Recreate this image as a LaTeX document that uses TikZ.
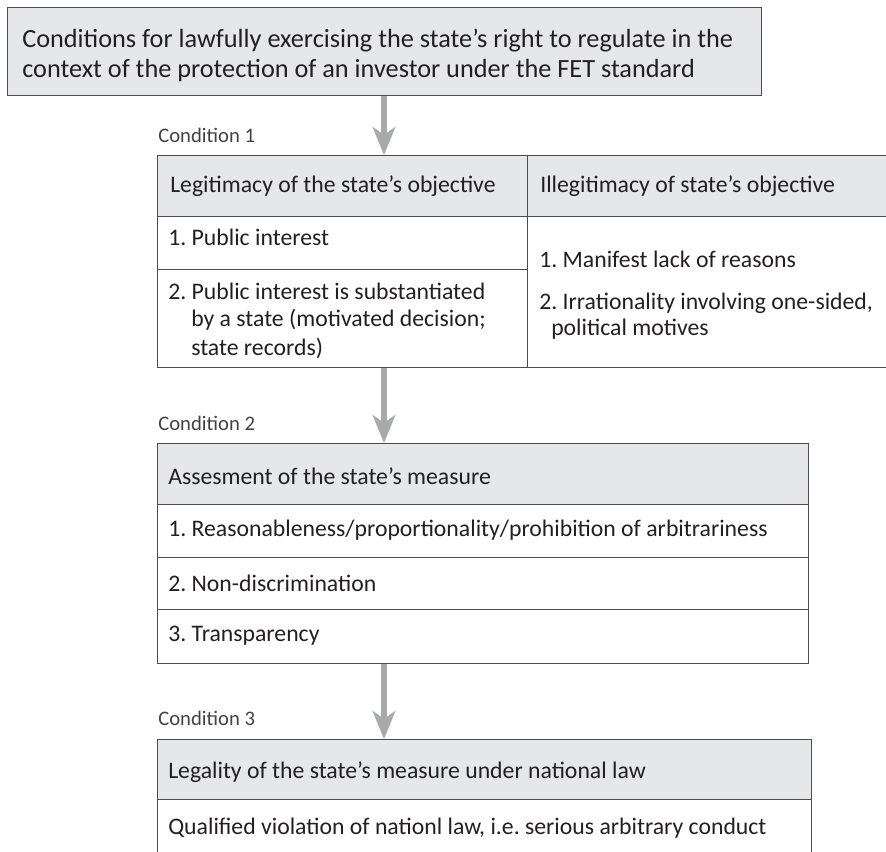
\documentclass[tikz,border=0pt]{standalone}
\usepackage{fontspec}
\setmainfont{Carlito}
\usetikzlibrary{arrows.meta}
\definecolor{hdrfill}{HTML}{E6E7E8}
\definecolor{edge}{HTML}{4D4D4D}
\definecolor{arrgray}{HTML}{A7A9AC}
\definecolor{txt}{HTML}{231F20}
\frenchspacing
\begin{document}
\begin{tikzpicture}[x=0.75pt,y=-0.75pt,
  hdr/.style={draw=edge,line width=1pt,fill=hdrfill},
  cell/.style={draw=edge,line width=1pt},
  body/.style={anchor=west,inner sep=0pt,text=txt,font=\fontsize{17.8}{21}\selectfont},
  big/.style={anchor=west,inner sep=0pt,text=txt,font=\fontsize{19.7}{24}\selectfont},
  cond/.style={anchor=west,inner sep=0pt,text=txt!85,font=\fontsize{15.5}{18}\selectfont},
  flow/.style={draw=arrgray,line width=4pt,-{Stealth[length=21pt,width=17pt,inset=6pt]}}]
\useasboundingbox (0,0) rectangle (886,851);
% top box
\node[hdr,minimum width=754*0.75pt,minimum height=88*0.75pt,anchor=north west,inner sep=0pt] (top) at (7,7) {};
\node[big] (toptxt1) at (22,40) {Conditions for lawfully exercising the state’s right to regulate in the};
\node[big] (toptxt2) at (22,70) {context of the protection of an investor under the FET standard};
% table 1
\node[hdr,minimum width=370*0.75pt,minimum height=61*0.75pt,anchor=north west,inner sep=0pt] (t1a) at (157,155) {};
\node[hdr,minimum width=362*0.75pt,minimum height=61*0.75pt,anchor=north west,inner sep=0pt] (t1b) at (527,155) {};
\node[cell,minimum width=370*0.75pt,minimum height=53*0.75pt,anchor=north west,inner sep=0pt] (t1c) at (157,216) {};
\node[cell,minimum width=370*0.75pt,minimum height=98*0.75pt,anchor=north west,inner sep=0pt] (t1d) at (157,269) {};
\node[cell,minimum width=362*0.75pt,minimum height=151*0.75pt,anchor=north west,inner sep=0pt] (t1e) at (527,216) {};
\node[body] (h1a) at (170,186) {Legitimacy of the state’s objective};
\node[body] (h1b) at (540,186) {Illegitimacy of state’s objective};
\node[body] (p1) at (168,237) {1. Public interest};
\node[body] (p2a) at (168,291) {2. Public interest is substantiated};
\node[body] (p2b) at (191,320) {by a state (motivated decision;};
\node[body] (p2c) at (191,348) {state records)};
\node[body] (q1) at (539,259) {1. Manifest lack of reasons};
\node[body] (q2a) at (539,303) {2. Irrationality involving one-sided,};
\node[body] (q2b) at (551,329) {political motives};
% table 2
\node[hdr,minimum width=651*0.75pt,minimum height=61*0.75pt,anchor=north west,inner sep=0pt] (t2h) at (157,443) {};
\node[cell,minimum width=651*0.75pt,minimum height=53*0.75pt,anchor=north west,inner sep=0pt] (t2a) at (157,504) {};
\node[cell,minimum width=651*0.75pt,minimum height=52*0.75pt,anchor=north west,inner sep=0pt] (t2b) at (157,557) {};
\node[cell,minimum width=651*0.75pt,minimum height=54*0.75pt,anchor=north west,inner sep=0pt] (t2c) at (157,609) {};
\node[body] (r0) at (168,476) {Assesment of the state’s measure};
\node[body] (r1) at (168,530) {1. Reasonableness/proportionality/prohibition of arbitrariness};
\node[body] (r2) at (168,583) {2. Non-discrimination};
\node[body] (r3) at (168,636) {3. Transparency};
% table 3
\node[hdr,minimum width=654*0.75pt,minimum height=60*0.75pt,anchor=north west,inner sep=0pt] (t3h) at (157,739) {};
\node[cell,minimum width=654*0.75pt,minimum height=70*0.75pt,anchor=north west,inner sep=0pt] (t3a) at (157,799) {};
\node[body] (s0) at (168,772) {Legality of the state’s measure under national law};
\node[body] (s1) at (168,828) {Qualified violation of nationl law, i.e. serious arbitrary conduct};
% condition labels
\node[cond] (c1) at (158,135) {Condition 1};
\node[cond] (c2) at (158,423) {Condition 2};
\node[cond] (c3) at (158,718) {Condition 3};
% arrows
\coordinate (ax) at (384,0);
\draw[flow] (top.south -| ax) -- (t1a.north -| ax);
\draw[flow] (t1d.south -| ax) -- (t2h.north -| ax);
\draw[flow] (t2c.south -| ax) -- (t3h.north -| ax);
\end{tikzpicture}
\end{document}
